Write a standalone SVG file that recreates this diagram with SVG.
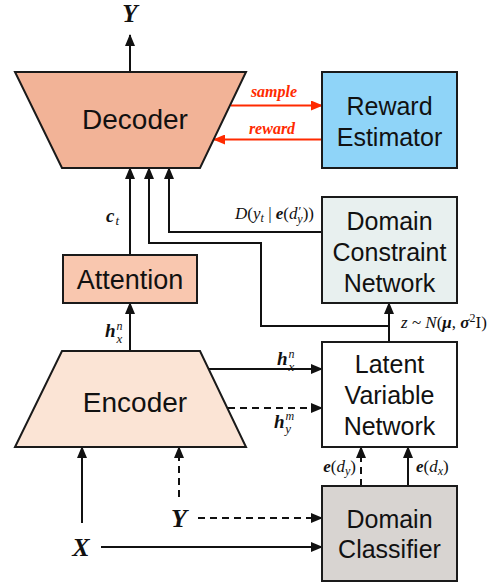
<svg xmlns="http://www.w3.org/2000/svg" width="504" height="583" viewBox="0 0 504 583">
  <style>
    .box { stroke: #1a1a1a; stroke-width: 2; }
    .lbl { font-family: "Liberation Sans", Arial, sans-serif; fill: #111; text-anchor: middle; }
    .math { font-family: "Liberation Serif", "DejaVu Serif", serif; fill: #111; font-style: italic; }
    .bi { font-weight: bold; font-style: italic; }
    .up { font-style: normal; }
    .wire { fill: none; stroke: #111; stroke-width: 2; }
    .dash { stroke-dasharray: 7 5; }
    .red { fill: none; stroke: #ff2a00; stroke-width: 2; }
    .redtxt { font-family: "Liberation Serif", serif; font-weight: bold; font-style: italic; fill: #ff2a00; font-size: 16px; text-anchor: middle; }
  </style>
  <defs>
    <marker id="arr" markerUnits="userSpaceOnUse" markerWidth="12" markerHeight="10" refX="11" refY="5" orient="auto">
      <path d="M0,0 L12,5 L0,10 z" fill="#111"/>
    </marker>
    <marker id="arrRed" markerUnits="userSpaceOnUse" markerWidth="12" markerHeight="10" refX="11" refY="5" orient="auto">
      <path d="M0,0 L12,5 L0,10 z" fill="#ff2a00"/>
    </marker>
  </defs>

  <g id="connectors">
    <path class="wire" d="M130,72 V35" marker-end="url(#arr)"/>
    <path class="red" d="M231,105.5 H322" marker-end="url(#arrRed)"/>
    <path class="red" d="M322,139.5 H214" marker-end="url(#arrRed)"/>
    <path class="wire" d="M130,255 V168" marker-end="url(#arr)"/>
    <path class="wire" d="M389,326 H261 V243 H149 V168" marker-end="url(#arr)"/>
    <path class="wire" d="M322,232 H169 V168" marker-end="url(#arr)"/>
    <path class="wire" d="M389,342 V303" marker-end="url(#arr)"/>
    <path class="wire" d="M130,351 V303" marker-end="url(#arr)"/>
    <path class="wire" d="M209,369 H322" marker-end="url(#arr)"/>
    <path class="wire dash" d="M228,408 H322" marker-end="url(#arr)"/>
    <path class="wire dash" d="M361,486 V447" marker-end="url(#arr)"/>
    <path class="wire" d="M408,486 V447" marker-end="url(#arr)"/>
    <path class="wire" d="M82,523 V447" marker-end="url(#arr)"/>
    <path class="wire dash" d="M179,497 V447" marker-end="url(#arr)"/>
    <path class="wire dash" d="M198,518 H322" marker-end="url(#arr)"/>
    <path class="wire" d="M101,547 H322" marker-end="url(#arr)"/>
  </g>

  <g id="decoder">
    <polygon class="box" points="15,72 246,72 200,168 62,168" fill="#f2b397"/>
    <text class="lbl" x="135" y="129" font-size="28">Decoder</text>
  </g>

  <g id="reward-estimator">
    <rect class="box" x="322" y="72" width="135" height="96" fill="#8fd4f8"/>
    <text class="lbl" x="389.5" y="115" font-size="25">Reward</text>
    <text class="lbl" x="389.5" y="146" font-size="25">Estimator</text>
  </g>

  <g id="attention">
    <rect class="box" x="63" y="255" width="134" height="48" fill="#f9c7af"/>
    <text class="lbl" x="130" y="289" font-size="27">Attention</text>
  </g>

  <g id="domain-constraint">
    <rect class="box" x="322" y="197" width="135" height="106" fill="#e8f0ef"/>
    <text class="lbl" x="389.5" y="230" font-size="25">Domain</text>
    <text class="lbl" x="389.5" y="261" font-size="25">Constraint</text>
    <text class="lbl" x="389.5" y="292" font-size="25">Network</text>
  </g>

  <g id="encoder">
    <polygon class="box" points="62,351 200,351 246,447 15,447" fill="#fbe4d5"/>
    <text class="lbl" x="135" y="412" font-size="28">Encoder</text>
  </g>

  <g id="latent-variable">
    <rect class="box" x="322" y="342" width="135" height="105" fill="#ffffff"/>
    <text class="lbl" x="389.5" y="373" font-size="25">Latent</text>
    <text class="lbl" x="389.5" y="404" font-size="25">Variable</text>
    <text class="lbl" x="389.5" y="435" font-size="25">Network</text>
  </g>

  <g id="domain-classifier">
    <rect class="box" x="322" y="486" width="135" height="95" fill="#d8d4d1"/>
    <text class="lbl" x="389.5" y="528" font-size="25">Domain</text>
    <text class="lbl" x="389.5" y="558" font-size="25">Classifier</text>
  </g>

  <g id="labels">
    <text class="math bi" x="130" y="22" font-size="25" text-anchor="middle">Y</text>
    <text class="redtxt" x="274" y="97">sample</text>
    <text class="redtxt" x="272" y="134">reward</text>

    <!-- context vector c_t -->
    <text class="math" x="106" y="222" font-size="19"><tspan class="bi">c</tspan><tspan font-size="13" dx="1" dy="3">t</tspan></text>

    <!-- constraint signal D(y_t | e(d'_y)) -->
    <text class="math" x="314" y="219" font-size="17" text-anchor="end">D<tspan class="up">(</tspan>y<tspan font-size="12" dy="3">t</tspan><tspan class="up" dy="-3"> | </tspan><tspan class="bi">e</tspan><tspan class="up">(</tspan>d<tspan class="up" font-size="13" dx="1" dy="-4">′</tspan><tspan font-size="12" dx="-4" dy="8">y</tspan><tspan class="up" dy="-4">))</tspan></text>

    <!-- latent sample -->
    <text class="math" x="401" y="328" font-size="17">z <tspan class="up">~</tspan> N<tspan class="up">(</tspan><tspan class="bi">μ</tspan><tspan class="up">, </tspan><tspan class="bi">σ</tspan><tspan class="up" font-size="12" dy="-6">2</tspan><tspan class="up" dy="6">I)</tspan></text>

    <!-- encoder states -->
    <text class="math" x="105" y="337" font-size="19"><tspan class="bi">h</tspan><tspan font-size="12" dx="1" dy="-7">n</tspan><tspan font-size="13" dx="-6" dy="13">x</tspan></text>
    <text class="math" x="277" y="365" font-size="19"><tspan class="bi">h</tspan><tspan font-size="12" dx="1" dy="-7">n</tspan><tspan font-size="13" dx="-6" dy="13">x</tspan></text>
    <text class="math" x="274" y="428" font-size="19"><tspan class="bi">h</tspan><tspan font-size="12" dx="1" dy="-8">m</tspan><tspan font-size="13" dx="-9" dy="13">y</tspan></text>

    <!-- domain embeddings -->
    <text class="math" x="356" y="472" font-size="17" text-anchor="end"><tspan class="bi">e</tspan><tspan class="up">(</tspan>d<tspan font-size="12" dy="3">y</tspan><tspan class="up" dy="-3">)</tspan></text>
    <text class="math" x="416" y="472" font-size="17"><tspan class="bi">e</tspan><tspan class="up">(</tspan>d<tspan font-size="12" dy="3">x</tspan><tspan class="up" dy="-3">)</tspan></text>

    <text class="math bi" x="179" y="527" font-size="26" text-anchor="middle">Y</text>
    <text class="math bi" x="81" y="556" font-size="26" text-anchor="middle">X</text>
  </g>
</svg>
